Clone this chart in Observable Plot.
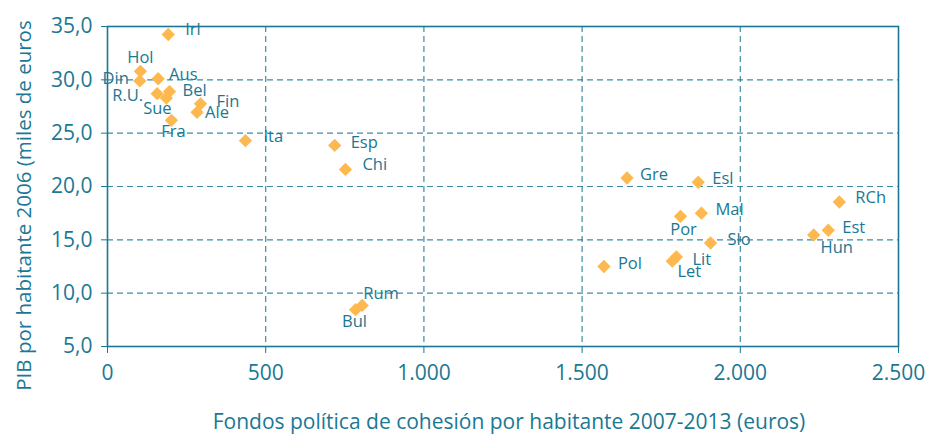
<!DOCTYPE html>
<html>
<head>
<meta charset="utf-8">
<script src="https://cdn.jsdelivr.net/npm/d3@7"></script>
<script src="https://cdn.jsdelivr.net/npm/@observablehq/plot@0.6"></script>
<style>
  html, body { margin: 0; padding: 0; background: #fff; }
</style>
</head>
<body>
<div id="chart"></div>
<script>
// ---- data ----
const paises = ["Irl","Hol","Din","Aus","R.U.","Bel","Sue","Fin","Ale","Fra","Ita","Esp","Chi","Rum","Bul",
                "Gre","Esl","Por","Mal","Slo","Pol","Lit","Let","RCh","Est","Hun"];
const fondos = [192,104,102,160,157,196,186,294,283,202,436,718,752,805,784,
                1642,1867,1811,1877,1906,1569,1798,1785,2313,2278,2232];
const pib    = [34.25,30.8,29.9,30.1,28.7,28.9,28.3,27.75,26.95,26.2,24.3,23.85,21.6,8.85,8.45,
                20.8,20.4,17.2,17.5,14.7,12.5,13.4,13.0,18.55,15.9,15.45];
const xTicks = [0,500,1000,1500,2000,2500];
const yTicks = [5,10,15,20,25,30,35];
const xTitle = "Fondos política de cohesión por habitante 2007-2013 (euros)";
const yTitle = "PIB por habitante 2006 (miles de euros";

// label placement (anchor, dx, dy)
const place = {
  "Irl":["start",17,-5], "Hol":["middle",0,-14], "Din":["end",-11,-2], "Aus":["start",11,-4],
  "R.U.":["end",-14,2], "Bel":["start",13,-1], "Sue":["middle",-9,11], "Fin":["start",16,-2],
  "Ale":["start",8,0], "Fra":["middle",2,11], "Ita":["start",18,-4], "Esp":["start",16,-3],
  "Chi":["start",17,-5], "Rum":["start",1,-12], "Bul":["middle",-1,12], "Gre":["start",13,-3],
  "Esl":["start",14,-4], "Por":["middle",3,13], "Mal":["start",14,-3], "Slo":["start",17,-3],
  "Pol":["start",14,-3], "Lit":["start",16,3], "Let":["middle",17,11], "RCh":["start",16,-4],
  "Est":["start",14,-3], "Hun":["middle",23,13]
};

const data = paises.map((p, i) => ({pais: p, x: fondos[i], y: pib[i]}));

const teal = "#1a7894";
const gold = "#FDB94F";
const font = "'Open Sans', 'Noto Sans', sans-serif";

const labelMarks = data.map(d => Plot.text([d], {
  x: "x", y: "y", text: "pais",
  textAnchor: place[d.pais][0], dx: place[d.pais][1], dy: place[d.pais][2],
  fontSize: 16.5, fill: teal, lineAnchor: "middle"
}));

const chart = Plot.plot({
  width: 927,
  height: 435,
  marginLeft: 107,
  marginRight: 29,
  marginTop: 26,
  marginBottom: 89,
  style: {fontFamily: font, color: teal, background: "#fff", overflow: "visible"},
  x: {domain: [0, 2500], ticks: xTicks},
  y: {domain: [5, 35], ticks: yTicks},
  marks: [
    Plot.gridX(xTicks.slice(1, -1), {stroke: teal, strokeOpacity: 0.85, strokeWidth: 1.2, strokeDasharray: "6,4"}),
    Plot.gridY(yTicks.slice(1, -1), {stroke: teal, strokeOpacity: 0.85, strokeWidth: 1.2, strokeDasharray: "6,4"}),
    Plot.frame({stroke: teal, strokeWidth: 1.6}),
    Plot.axisX(xTicks, {
      tickSize: 7, tickPadding: 12, fontSize: 21, label: null, stroke: teal, fill: teal,
      tickFormat: d => d3.format(",")(d).replace(/,/g, ".")
    }),
    Plot.axisY(yTicks, {
      tickSize: 6, tickPadding: 9, fontSize: 21, label: null, stroke: teal, fill: teal,
      tickFormat: d => d.toFixed(1).replace(".", ",")
    }),
    Plot.dot(data, {x: "x", y: "y", symbol: "diamond2", r: 6, fill: gold, stroke: "none"}),
    ...labelMarks,
    Plot.text([yTitle], {frameAnchor: "left", textAnchor: "middle", dx: -83, dy: 19, rotate: -90, fontSize: 20.5, fill: teal, lineAnchor: "middle"}),
    Plot.text([xTitle], {frameAnchor: "bottom", textAnchor: "middle", dx: 6, dy: 76, fontSize: 21, fill: teal, lineAnchor: "middle"})
  ]
});

document.getElementById("chart").appendChild(chart);
</script>
</body>
</html>
